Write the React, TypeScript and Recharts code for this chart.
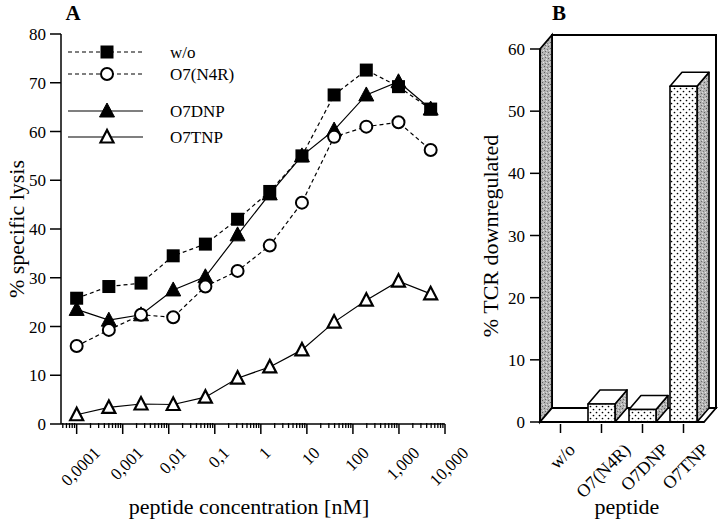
import React from 'react';
import { LineChart, Line, XAxis, YAxis, BarChart, Bar } from 'recharts';

// panel A: peptide concentration (nM), 1:5 dilutions
const concentrations = [0.0001, 0.0005, 0.0025, 0.0125, 0.0625, 0.3125, 1.5625, 7.8125, 39.0625, 195.3125, 976.5625, 4882.8125];
const lysisWo = [25.8, 28.2, 28.9, 34.5, 36.9, 42.0, 47.7, 55.0, 67.5, 72.6, 69.2, 64.6];
const lysisN4R = [16.0, 19.3, 22.4, 21.9, 28.2, 31.4, 36.6, 45.4, 58.9, 61.0, 61.9, 56.2];
const lysisDNP = [23.5, 21.3, 22.4, 27.5, 30.2, 38.8, 47.2, 55.0, 60.3, 67.5, 70.2, 64.6];
const lysisTNP = [1.9, 3.4, 4.1, 4.0, 5.5, 9.4, 11.7, 15.2, 20.9, 25.4, 29.3, 26.7];

const majorTicks = [0.0001, 0.001, 0.01, 0.1, 1, 10, 100, 1000, 10000];
const majorLabels = ['0,0001', '0,001', '0,01', '0,1', '1', '10', '100', '1,000', '10,000'];
const lysisTicks = [0, 10, 20, 30, 40, 50, 60, 70, 80];

// panel B
const peptides = ['w/o', 'O7(N4R)', 'O7DNP', 'O7TNP'];
const tcrDown = [0, 2.9, 2.0, 54.0];
const tcrTicks = [0, 10, 20, 30, 40, 50, 60];

const FONT = 'Liberation Serif, Times New Roman, DejaVu Serif, serif';
const X_MIN = 4.57e-5;

const lysisData = concentrations.map((c, i) => ({
  conc: c,
  wo: lysisWo[i],
  n4r: lysisN4R[i],
  dnp: lysisDNP[i],
  tnp: lysisTNP[i],
}));
const tcrData = peptides.map((p, i) => ({ name: p, value: tcrDown[i] }));

// minor log ticks (2..9 of each decade inside the domain)
const minorTicks: number[] = [];
for (let k = -5; k <= 3; k++) {
  for (let m = 2; m <= 9; m++) {
    const v = m * Math.pow(10, k);
    if (v > X_MIN && v < 10000) minorTicks.push(v);
  }
}

// rough Times glyph widths (em) to center rotated labels
const W: Record<string, number> = {
  '0': 0.5, '1': 0.5, '4': 0.5, '7': 0.5, ',': 0.25, 'O': 0.722, 'N': 0.722, 'R': 0.667,
  'D': 0.722, 'P': 0.556, 'T': 0.611, 'w': 0.722, 'o': 0.5, '/': 0.278, '(': 0.333, ')': 0.333,
};
const textLen = (s: string, size: number) => s.split('').reduce((a, ch) => a + (W[ch] ?? 0.5), 0) * size;

const txt = (size: number, weight?: string): React.CSSProperties => ({ fontFamily: FONT, fontSize: size, fontWeight: weight });

const LogTick = (props: any) => {
  const { x, y, payload } = props;
  const v = payload.value;
  const idx = majorTicks.findIndex((t) => Math.abs(Math.log10(t) - Math.log10(v)) < 1e-6);
  if (idx < 0) {
    return <line x1={x} x2={x} y1={y - 1} y2={y + 4} stroke="#000" strokeWidth={1.3} />;
  }
  const label = majorLabels[idx];
  const h = (textLen(label, 17) / 2) * Math.SQRT1_2;
  const tx = x + 8;
  const ty = y + 30 + h;
  return (
    <g>
      <line x1={x} x2={x} y1={y} y2={y + 10} stroke="#000" strokeWidth={1.5} />
      <text x={tx} y={ty} textAnchor="middle" style={txt(17)} fill="#000"
        transform={`rotate(-45 ${tx} ${ty})`}>{label}</text>
    </g>
  );
};

const PeptideTick = (props: any) => {
  const { x, y, payload } = props;
  const label = payload.value as string;
  const h = (textLen(label, 18) / 2) * Math.SQRT1_2;
  const tx = x + 6;
  const ty = y + 29 + h;
  return (
    <g>
      <line x1={x} x2={x} y1={y + 2} y2={y + 11} stroke="#000" strokeWidth={1.5} />
      <text x={tx} y={ty} textAnchor="middle" style={txt(18)} fill="#000"
        transform={`rotate(-45 ${tx} ${ty})`}>{label}</text>
    </g>
  );
};

type Kind = 'square' | 'circle' | 'triFill' | 'triOpen';

const Marker = ({ kind, cx, cy }: { kind: Kind; cx: number; cy: number }) => {
  if (kind === 'square') return <rect x={cx - 6.5} y={cy - 6.5} width={13} height={13} fill="#000" />;
  if (kind === 'circle') return <circle cx={cx} cy={cy} r={6} fill="#fff" stroke="#000" strokeWidth={2} />;
  if (kind === 'triFill') {
    return <polygon points={`${cx},${cy - 8} ${cx - 7.5},${cy + 6} ${cx + 7.5},${cy + 6}`} fill="#000" stroke="#000" strokeWidth={1} />;
  }
  return <polygon points={`${cx},${cy - 7} ${cx - 6.5},${cy + 5.5} ${cx + 6.5},${cy + 5.5}`} fill="#fff" stroke="#000" strokeWidth={2.2} strokeLinejoin="miter" />;
};

const series: { key: string; name: string; kind: Kind; dash?: string }[] = [
  { key: 'wo', name: 'w/o', kind: 'square', dash: '4 3' },
  { key: 'n4r', name: 'O7(N4R)', kind: 'circle', dash: '4 3' },
  { key: 'dnp', name: 'O7DNP', kind: 'triFill' },
  { key: 'tnp', name: 'O7TNP', kind: 'triOpen' },
];
const legendRows = [52, 74, 111, 137];

const LegendA = () => (
  <g>
    {series.map((s, i) => (
      <g key={s.key}>
        <line x1={68} x2={143} y1={legendRows[i]} y2={legendRows[i]} stroke="#000" strokeWidth={1.2} strokeDasharray={s.dash} />
        <Marker kind={s.kind} cx={107} cy={legendRows[i]} />
        <text x={170} y={legendRows[i] + 6} style={txt(17)} fill="#000">{s.name}</text>
      </g>
    ))}
  </g>
);

// panel B 3D box
const DX = 12;
const DY = -14;
const PB = { left: 80, top: 49, width: 164, height: 373 };

const Walls = () => {
  const { left, top, width, height } = PB;
  const bottom = top + height;
  const right = left + width;
  return (
    <g>
      <rect x={left + DX} y={top + DY} width={width} height={height} fill="#fff" stroke="#000" strokeWidth={2} />
      <polygon points={`${left},${bottom} ${left + DX},${bottom + DY} ${left + DX},${top + DY} ${left},${top}`}
        fill="url(#grayTex)" stroke="#000" strokeWidth={1.8} />
      <polygon points={`${left},${bottom} ${right},${bottom} ${right + DX},${bottom + DY} ${left + DX},${bottom + DY}`}
        fill="#fff" stroke="#000" strokeWidth={1.8} />
    </g>
  );
};

const Bar3D = (props: any) => {
  const { x, y, width, height } = props;
  if (!height || height <= 0) return <g />;
  const r = x + width;
  const b = y + height;
  return (
    <g stroke="#000" strokeWidth={1.6} strokeLinejoin="round">
      <polygon points={`${r},${y} ${r + DX},${y + DY} ${r + DX},${b + DY} ${r},${b}`} fill="url(#grayTex)" />
      <polygon points={`${x},${y} ${r},${y} ${r + DX},${y + DY} ${x + DX},${y + DY}`} fill="#fff" />
      <rect x={x} y={y} width={width} height={height} fill="url(#dotTex)" />
    </g>
  );
};

const Patterns = () => (
  <svg width={0} height={0} style={{ position: 'absolute' }}>
    <defs>
      <pattern id="dotTex" patternUnits="userSpaceOnUse" width={6} height={6}>
        <rect width={6} height={6} fill="#fff" />
        <circle cx={1.5} cy={1.5} r={0.85} fill="#000" />
        <circle cx={4.5} cy={4.5} r={0.85} fill="#000" />
      </pattern>
      <pattern id="grayTex" patternUnits="userSpaceOnUse" width={6} height={6}>
        <rect width={6} height={6} fill="#b4b4b4" />
        <rect x={0} y={0} width={1} height={1} fill="#5e5e5e" />
        <rect x={3} y={1} width={1} height={1} fill="#7a7a7a" />
        <rect x={1} y={3} width={1} height={1} fill="#6a6a6a" />
        <rect x={4} y={4} width={1} height={1} fill="#5e5e5e" />
        <rect x={2} y={5} width={1} height={1} fill="#e2e2e2" />
        <rect x={5} y={2} width={1} height={1} fill="#e8e8e8" />
        <rect x={2} y={2} width={1} height={1} fill="#dddddd" />
      </pattern>
    </defs>
  </svg>
);

export default function App() {
  return (
    <div style={{ position: 'absolute', left: 0, top: 0, width: 720, height: 524, background: '#fff', fontFamily: FONT }}>
      <Patterns />
      <div style={{ position: 'absolute', left: 0, top: 0 }}>
        <LineChart width={480} height={524} data={lysisData} margin={{ top: 34, right: 35, bottom: 0, left: 0 }}
          style={{ fontFamily: FONT }}>
          <XAxis dataKey="conc" type="number" scale="log" domain={[X_MIN, 10000]} allowDataOverflow
            ticks={[...majorTicks, ...minorTicks]} interval={0} height={100} tickSize={0} tickMargin={0}
            tickLine={false} tick={<LogTick />} axisLine={{ stroke: '#000', strokeWidth: 1.5 }} />
          <XAxis xAxisId="top" dataKey="conc" type="number" scale="log" domain={[X_MIN, 10000]} allowDataOverflow
            orientation="top" height={0} tick={false} tickLine={false} axisLine={{ stroke: '#000', strokeWidth: 1.5 }} />
          <YAxis type="number" domain={[0, 80]} ticks={lysisTicks} interval={0} width={61} tickSize={11} tickMargin={4}
            tick={{ style: txt(17), fill: '#000' }} tickLine={{ stroke: '#000', strokeWidth: 1.5 }}
            axisLine={{ stroke: '#000', strokeWidth: 1.5 }} />
          <YAxis yAxisId="right" orientation="right" domain={[0, 80]} width={0} tick={false} tickLine={false}
            axisLine={{ stroke: '#000', strokeWidth: 1.5 }} />
          {[...series].reverse().map((s) => (
            <Line key={s.key} dataKey={s.key} name={s.name} type="linear" stroke="#000" strokeWidth={1.2}
              strokeDasharray={s.dash} isAnimationActive={false} activeDot={false}
              dot={(p: any) => <Marker key={`${s.key}-${p.index}`} kind={s.kind} cx={p.cx} cy={p.cy} />} />
          ))}
          <LegendA />
          <text x={73} y={20} textAnchor="middle" style={txt(21, 'bold')} fill="#000">A</text>
          <text x={24} y={229} textAnchor="middle" style={txt(22)} fill="#000"
            transform="rotate(-90 24 229)">% specific lysis</text>
          <text x={249} y={514} textAnchor="middle" style={txt(22)} fill="#000">peptide concentration [nM]</text>
        </LineChart>
      </div>
      <div style={{ position: 'absolute', left: 460, top: 0 }}>
        <BarChart width={260} height={524} data={tcrData} margin={{ top: 49, right: 16, bottom: 0, left: 0 }}
          style={{ fontFamily: FONT }}>
          <Walls />
          <XAxis dataKey="name" type="category" height={102} tickSize={0} tickMargin={0} tickLine={false}
            interval={0} tick={<PeptideTick />} axisLine={{ stroke: '#000', strokeWidth: 1.8 }} />
          <YAxis type="number" domain={[0, 60]} ticks={tcrTicks} interval={0} width={80} tickSize={10} tickMargin={5}
            tick={{ style: txt(17), fill: '#000' }} tickLine={{ stroke: '#000', strokeWidth: 1.5 }}
            axisLine={{ stroke: '#000', strokeWidth: 1.8 }} />
          <Bar dataKey="value" barSize={27} shape={<Bar3D />} isAnimationActive={false} />
          <text x={99} y={20} textAnchor="middle" style={txt(21, 'bold')} fill="#000">B</text>
          <text x={38} y={236} textAnchor="middle" style={txt(22)} fill="#000"
            transform="rotate(-90 38 236)">% TCR downregulated</text>
          <text x={167} y={514} textAnchor="middle" style={txt(22)} fill="#000">peptide</text>
        </BarChart>
      </div>
    </div>
  );
}
